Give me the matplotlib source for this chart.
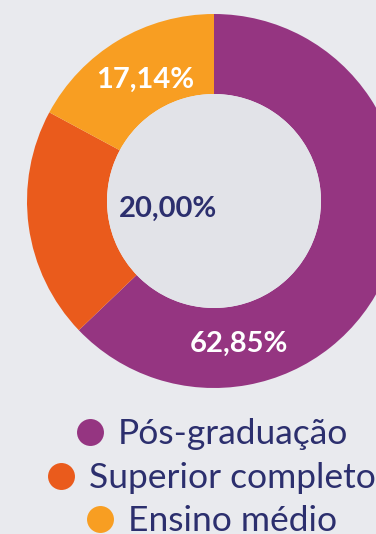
import matplotlib
matplotlib.use("Agg")
import matplotlib.pyplot as plt
from matplotlib.patches import Circle


categories = ["Pós-graduação", "Superior completo", "Ensino médio"]
shares = [62.85, 20.00, 17.14]
colors = ["#953581", "#ea5b1c", "#f89e22"]
label_colors = ["white", "#2c2f6e", "white"]

BG = "#e9eaee"
HOLE = "#e2e3e8"
NAVY = "#2c2f6e"

W, H = 376, 534
CX, CY, R_OUT, R_IN = 214, 201, 187, 107


def px(x, y):
	# pixel position (from top-left) -> data coords of the full-figure axes
	return (x - CX) / R_OUT, (CY - y) / R_OUT


fig = plt.figure(figsize=(W / 100, H / 100), dpi=100, facecolor=BG)
ax = fig.add_axes([0, 0, 1, 1])
ax.set_facecolor(BG)

ax.pie(
	shares,
	colors=colors,
	startangle=90,
	counterclock=False,
	radius=1,
	wedgeprops=dict(width=(R_OUT - R_IN) / R_OUT, linewidth=0),
)
ax.add_patch(Circle((0, 0), R_IN / R_OUT, facecolor=HOLE, edgecolor="none", zorder=3))

ax.set_xlim(-CX / R_OUT, (W - CX) / R_OUT)
ax.set_ylim(-(H - CY) / R_OUT, CY / R_OUT)
ax.axis("off")

# value labels (center x, baseline y in pixels)
label_pos = [(238.5, 352), (168.5, 217), (145, 88)]
for v, (x, y), c in zip(shares, label_pos, label_colors):
	ax.text(
		*px(x, y), f"{v:.2f}".replace(".", ",") + "%",
		color=c, fontsize=21, fontweight="bold", family="Lato",
		ha="center", va="baseline", zorder=5,
	)

# centered legend, one row per category
baselines = [444, 488, 531]
texts = []
for name, y in zip(categories, baselines):
	t = ax.text(*px(0, y), name, color=NAVY, fontsize=25.5, family="Lato",
		ha="left", va="baseline", zorder=5)
	texts.append(t)

fig.canvas.draw()
for t, y, c in zip(texts, baselines, colors):
	tw = t.get_window_extent().width
	cc = 213 - (16.5 + tw) / 2
	t.set_position(px(cc + 28, y))
	ax.plot(*px(cc, y - 12), "o", ms=19.4, color=c, mec="none", zorder=5, clip_on=False)

fig.savefig("out.png", dpi=100, facecolor=BG)
